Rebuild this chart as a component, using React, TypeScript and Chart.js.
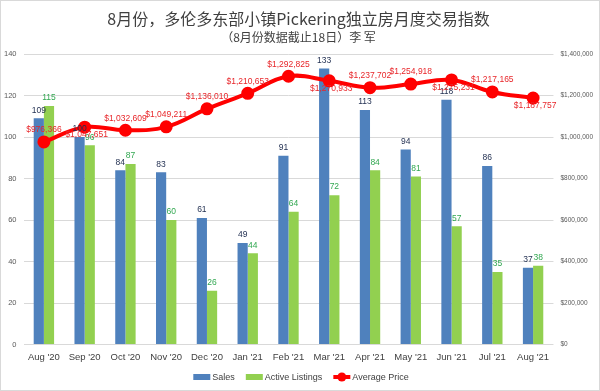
import React, { useEffect, useRef } from "react";
import { Chart, registerables } from "chart.js";

Chart.register(...registerables);

const months = ["Aug '20", "Sep '20", "Oct '20", "Nov '20", "Dec '20", "Jan '21", "Feb '21", "Mar '21", "Apr '21", "May '21", "Jun '21", "Jul '21", "Aug '21"];
const sales = [109, 100, 84, 83, 61, 49, 91, 133, 113, 94, 118, 86, 37];
const activeListings = [115, 96, 87, 60, 26, 44, 64, 72, 84, 81, 57, 35, 38];
const averagePrice = [976366, 1047651, 1032609, 1049211, 1136010, 1210653, 1292825, 1270933, 1237702, 1254918, 1275231, 1217165, 1187757];
const priceLabelSide = ["above", "below", "above", "above", "above", "above", "above", "below", "above", "above", "below", "above", "below"];

const titleText = "8月份，多伦多东部小镇Pickering独立房月度交易指数";
const subtitleText = "（8月份数据截止18日）李 军";

const FONT = "'Liberation Sans', Arial, sans-serif";
const BLUE = "#4f81bd";
const GREEN = "#92d050";
const RED = "#ff0000";

const fmtMoney = (v: number) => "$" + Math.round(v).toLocaleString("en-US");

const extrasPlugin = {
  id: "extras",
  beforeDraw(chart: any) {
    const { ctx, width, height } = chart;
    ctx.save();
    ctx.fillStyle = "#ffffff";
    ctx.fillRect(0, 0, width, height);
    ctx.strokeStyle = "#d9d9d9";
    ctx.lineWidth = 1;
    ctx.strokeRect(0.5, 0.5, width - 1, height - 1);
    ctx.restore();
  },
  afterDatasetsDraw(chart: any) {
    const { ctx } = chart;
    ctx.save();
    ctx.textAlign = "center";
    ctx.textBaseline = "middle";
    const barColors = ["#1f2d4f", "#33a852"];
    [0, 1].forEach((di) => {
      const meta = chart.getDatasetMeta(di);
      const data = chart.data.datasets[di].data as number[];
      ctx.font = `8.5px ${FONT}`;
      ctx.fillStyle = barColors[di];
      meta.data.forEach((el: any, i: number) => {
        ctx.fillText(String(data[i]), el.x, el.y - 8);
      });
    });
    const lm = chart.getDatasetMeta(2);
    ctx.font = `8.5px ${FONT}`;
    ctx.fillStyle = "#e8262a";
    lm.data.forEach((el: any, i: number) => {
      const dy = priceLabelSide[i] === "above" ? -12 : 8;
      ctx.fillText(fmtMoney(averagePrice[i]), el.x + (priceLabelSide[i] === "above" ? 0 : 2), el.y + dy);
    });
    ctx.restore();
  },
  afterDraw(chart: any) {
    const { ctx } = chart;
    ctx.save();
    ctx.font = `9px ${FONT}`;
    ctx.textBaseline = "middle";
    ctx.textAlign = "left";
    const items = chart.data.datasets.map((d: any) => ({ label: d.label, color: d.borderColor || d.backgroundColor, type: d.type }));
    const sym = 17, gapSym = 2, gapItem = 11;
    const widths = items.map((it: any) => sym + gapSym + ctx.measureText(it.label).width);
    const total = widths.reduce((a: number, b: number) => a + b, 0) + gapItem * (items.length - 1);
    let x = 301 - total / 2;
    const y = 377;
    items.forEach((it: any, i: number) => {
      if (it.type === "line") {
        ctx.strokeStyle = it.color;
        ctx.lineWidth = 4;
        ctx.beginPath();
        ctx.moveTo(x, y);
        ctx.lineTo(x + sym, y);
        ctx.stroke();
        ctx.fillStyle = it.color;
        ctx.beginPath();
        ctx.arc(x + sym / 2, y, 4.5, 0, Math.PI * 2);
        ctx.fill();
      } else {
        ctx.fillStyle = it.color;
        ctx.fillRect(x, y - 3, sym, 6);
      }
      ctx.fillStyle = "#404040";
      ctx.fillText(it.label, x + sym + gapSym, y + 0.5);
      x += widths[i] + gapItem;
    });
    ctx.restore();
  },
};

export default function App() {
  const ref = useRef<HTMLCanvasElement | null>(null);
  useEffect(() => {
    document.body.style.margin = "0";
    const canvas = ref.current;
    if (!canvas) return;
    const chart = new Chart(canvas, {
      type: "bar",
      data: {
        labels: months,
        datasets: [
          { type: "bar", label: "Sales", data: sales, backgroundColor: BLUE, yAxisID: "y", order: 2, categoryPercentage: 0.5, barPercentage: 1.0 } as any,
          { type: "bar", label: "Active Listings", data: activeListings, backgroundColor: GREEN, yAxisID: "y", order: 2, categoryPercentage: 0.5, barPercentage: 1.0 } as any,
          { type: "line", label: "Average Price", data: averagePrice, borderColor: RED, backgroundColor: RED, borderWidth: 4, pointRadius: 4.5, pointBackgroundColor: RED, pointBorderColor: RED, tension: 0.4, yAxisID: "y1", order: 0 } as any,
        ],
      },
      options: {
        responsive: false,
        maintainAspectRatio: false,
        animation: false,
        layout: { padding: { left: -3, right: 0, top: 0, bottom: 21 } },
        plugins: {
          legend: { display: false },
          tooltip: { enabled: false },
          title: {
            display: true,
            text: titleText,
            color: "#404040",
            font: { family: "'Noto Sans CJK SC', sans-serif", size: 16, weight: "normal" },
            padding: { top: 9, bottom: 0 },
          },
          subtitle: {
            display: true,
            text: subtitleText,
            color: "#404040",
            font: { family: "'Noto Sans CJK SC', sans-serif", size: 12, weight: "normal" },
            padding: { top: 1.6, bottom: 9.8 },
          },
        },
        scales: {
          x: {
            grid: { display: false, drawTicks: false },
            border: { display: false },
            ticks: { color: "#404040", font: { family: FONT, size: 9.5 }, padding: 7, maxRotation: 0, autoSkip: false },
          },
          y: {
            position: "left",
            min: 0,
            max: 140,
            ticks: { stepSize: 20, color: "#595959", font: { family: FONT, size: 7.5 }, padding: 7 },
            grid: { color: "#d9d9d9", drawTicks: false },
            border: { display: false },
          },
          y1: {
            position: "right",
            min: 0,
            max: 1400000,
            ticks: { stepSize: 200000, color: "#595959", font: { family: FONT, size: 6.5 }, padding: 7, callback: (v: any) => fmtMoney(Number(v)) },
            grid: { display: false, drawTicks: false },
            border: { display: false },
          },
        },
      },
      plugins: [extrasPlugin],
    });
    return () => chart.destroy();
  }, []);
  return (
    <div style={{ width: 600, height: 391 }}>
      <canvas ref={ref} width={600} height={391} />
    </div>
  );
}
